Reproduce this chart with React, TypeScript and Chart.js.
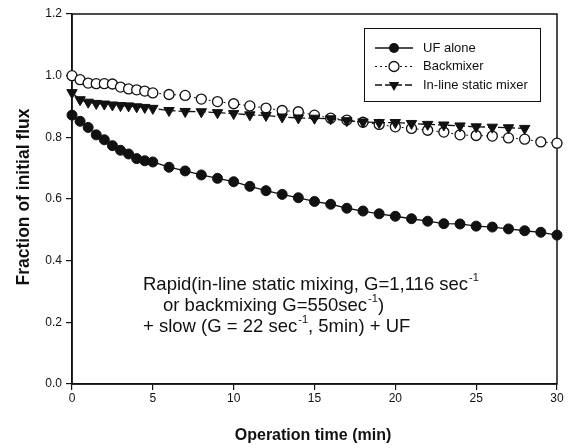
import React, { useEffect, useRef } from "react";
import { Chart, registerables } from "chart.js";

Chart.register(...registerables);

// ---- data ----
const timeMin = [0, 0.5, 1, 1.5, 2, 2.5, 3, 3.5, 4, 4.5, 5, 6, 7, 8, 9, 10, 11, 12, 13, 14, 15, 16, 17, 18, 19, 20, 21, 22, 23, 24, 25, 26, 27, 28, 29, 30];
const ufAlone = [0.872, 0.852, 0.832, 0.808, 0.792, 0.773, 0.758, 0.746, 0.731, 0.724, 0.72, 0.703, 0.691, 0.678, 0.667, 0.656, 0.641, 0.627, 0.615, 0.604, 0.592, 0.583, 0.57, 0.561, 0.552, 0.544, 0.536, 0.528, 0.52, 0.519, 0.512, 0.509, 0.503, 0.497, 0.492, 0.483];
const backmixer = [1.0, 0.987, 0.976, 0.974, 0.974, 0.973, 0.963, 0.957, 0.954, 0.95, 0.944, 0.939, 0.936, 0.924, 0.916, 0.909, 0.902, 0.895, 0.887, 0.883, 0.872, 0.862, 0.856, 0.849, 0.842, 0.834, 0.829, 0.823, 0.817, 0.808, 0.806, 0.804, 0.798, 0.794, 0.785, 0.781];
const timeInline = [0, 0.5, 1, 1.5, 2, 2.5, 3, 3.5, 4, 4.5, 5, 6, 7, 8, 9, 10, 11, 12, 13, 14, 15, 16, 17, 18, 19, 20, 21, 22, 23, 24, 25, 26, 27, 28];
const inlineMixer = [0.945, 0.922, 0.914, 0.91, 0.908, 0.905, 0.903, 0.902, 0.899, 0.897, 0.894, 0.887, 0.884, 0.883, 0.88, 0.877, 0.873, 0.871, 0.866, 0.863, 0.862, 0.86, 0.854, 0.85, 0.848, 0.848, 0.845, 0.842, 0.84, 0.837, 0.834, 0.833, 0.831, 0.829];

const seriesNames = ["UF alone", "Backmixer", "In-line static mixer"];
const xTitle = "Operation time (min)";
const yTitle = "Fraction of initial flux";
// annotation lines: [text, isSuperscript]
const noteLine1: [string, boolean][] = [["Rapid(in-line static mixing, G=1,116 sec", false], ["-1", true]];
const noteLine2: [string, boolean][] = [["or backmixing G=550sec", false], ["-1", true], [")", false]];
const noteLine3: [string, boolean][] = [["+ slow (G = 22 sec", false], ["-1", true], [", 5min) + UF", false]];

const FONT = '"Liberation Sans", Arial, Helvetica, sans-serif';
const INK = "#111";

function drawTri(ctx: CanvasRenderingContext2D, x: number, y: number, r: number) {
  ctx.beginPath();
  ctx.moveTo(x, y + r);
  ctx.lineTo(x - r * Math.sin(Math.PI / 3), y - r / 2);
  ctx.lineTo(x + r * Math.sin(Math.PI / 3), y - r / 2);
  ctx.closePath();
  ctx.fillStyle = INK;
  ctx.fill();
}

function drawRich(ctx: CanvasRenderingContext2D, parts: [string, boolean][], x: number, y: number, size: number) {
  let cx = x;
  for (const [t, sup] of parts) {
    if (sup) {
      ctx.font = `${Math.round(size * 0.6)}px ${FONT}`;
      ctx.fillText(t, cx + 1, y - size * 0.5);
      cx += 1;
    } else {
      ctx.font = `${size}px ${FONT}`;
      ctx.fillText(t, cx, y);
    }
    cx += ctx.measureText(t).width;
  }
}

const decorPlugin = {
  id: "decor",
  beforeDatasetsDraw(chart: any) {
    const { ctx, chartArea: a } = chart;
    ctx.save();
    ctx.strokeStyle = INK;
    ctx.lineWidth = 1.5;
    ctx.strokeRect(a.left, a.top, a.right - a.left, a.bottom - a.top);
    ctx.restore();
  },
  afterDraw(chart: any) {
    const { ctx } = chart;
    ctx.save();
    ctx.fillStyle = INK;
    ctx.strokeStyle = INK;

    // axis titles
    ctx.font = `bold 16px ${FONT}`;
    ctx.textAlign = "center";
    ctx.textBaseline = "middle";
    ctx.fillText(xTitle, 313, 436);
    ctx.save();
    ctx.translate(24, 197);
    ctx.rotate(-Math.PI / 2);
    ctx.font = `bold 17.5px ${FONT}`;
    ctx.fillText(yTitle, 0, 0);
    ctx.restore();

    // legend
    ctx.lineWidth = 1;
    ctx.strokeRect(364.5, 28.5, 176, 73);
    const rows = [48, 66.5, 85];
    const x0 = 375, x1 = 413, xm = 394;
    ctx.font = `13px ${FONT}`;
    ctx.textAlign = "left";
    ctx.textBaseline = "middle";
    // UF alone
    ctx.setLineDash([]);
    ctx.lineWidth = 1.3;
    ctx.beginPath(); ctx.moveTo(x0, rows[0]); ctx.lineTo(x1, rows[0]); ctx.stroke();
    ctx.beginPath(); ctx.arc(xm, rows[0], 5, 0, Math.PI * 2); ctx.fill();
    // Backmixer
    ctx.setLineDash([2, 3]);
    ctx.lineWidth = 1;
    ctx.beginPath(); ctx.moveTo(x0, rows[1]); ctx.lineTo(x1, rows[1]); ctx.stroke();
    ctx.setLineDash([]);
    ctx.fillStyle = "#fff";
    ctx.lineWidth = 1.3;
    ctx.beginPath(); ctx.arc(xm, rows[1], 5, 0, Math.PI * 2); ctx.fill(); ctx.stroke();
    ctx.fillStyle = INK;
    // In-line
    ctx.setLineDash([7, 3]);
    ctx.lineWidth = 1.3;
    ctx.beginPath(); ctx.moveTo(x0, rows[2]); ctx.lineTo(x1, rows[2]); ctx.stroke();
    ctx.setLineDash([]);
    drawTri(ctx, xm, rows[2], 6);
    ctx.fillStyle = INK;
    seriesNames.forEach((n, i) => ctx.fillText(n, 423, rows[i]));

    // annotation
    ctx.textBaseline = "alphabetic";
    drawRich(ctx, noteLine1, 143, 290, 18.5);
    drawRich(ctx, noteLine2, 163, 311, 18.5);
    drawRich(ctx, noteLine3, 143, 332, 18.5);
    ctx.restore();
  },
};

export default function App() {
  const ref = useRef<HTMLCanvasElement>(null);
  useEffect(() => {
    if (!ref.current) return;
    Chart.defaults.font.family = FONT;
    const chart = new Chart(ref.current, {
      type: "scatter",
      data: {
        datasets: [
          {
            label: seriesNames[0],
            data: timeMin.map((t, i) => ({ x: t, y: ufAlone[i] })),
            showLine: true,
            borderColor: INK,
            borderWidth: 1.3,
            pointStyle: "circle",
            pointRadius: 5,
            pointBackgroundColor: INK,
            pointBorderColor: INK,
            pointBorderWidth: 1,
            clip: false,
            order: 1,
          },
          {
            label: seriesNames[1],
            data: timeMin.map((t, i) => ({ x: t, y: backmixer[i] })),
            showLine: true,
            borderColor: INK,
            borderWidth: 1,
            borderDash: [2, 3],
            pointStyle: "circle",
            pointRadius: 5,
            pointBackgroundColor: "#fff",
            pointBorderColor: INK,
            pointBorderWidth: 1.3,
            clip: false,
            order: 2,
          },
          {
            label: seriesNames[2],
            data: timeInline.map((t, i) => ({ x: t, y: inlineMixer[i] })),
            showLine: true,
            borderColor: INK,
            borderWidth: 1.3,
            borderDash: [7, 3],
            pointStyle: "triangle",
            rotation: 180,
            pointRadius: 6,
            pointBackgroundColor: INK,
            pointBorderColor: INK,
            pointBorderWidth: 1,
            clip: false,
            order: 0,
          },
        ] as any,
      },
      options: {
        responsive: false,
        animation: false,
        devicePixelRatio: 1,
        layout: { padding: { left: 0, right: 16, top: 14, bottom: 0 } },
        plugins: { legend: { display: false }, tooltip: { enabled: false } },
        scales: {
          x: {
            type: "linear",
            min: 0,
            max: 30,
            ticks: { stepSize: 5, color: INK, font: { size: 12 }, padding: 1 },
            grid: { drawOnChartArea: false, drawTicks: true, tickLength: 6, color: INK, lineWidth: 1.2 },
            border: { display: true, color: INK, width: 1.5 },
            afterFit: (s: any) => { s.height = 64; },
          },
          y: {
            type: "linear",
            min: 0,
            max: 1.2,
            ticks: { stepSize: 0.2, color: INK, font: { size: 12 }, padding: 4, callback: (v: any) => Number(v).toFixed(1) },
            grid: { drawOnChartArea: false, drawTicks: true, tickLength: 6, color: INK, lineWidth: 1.2 },
            border: { display: true, color: INK, width: 1.5 },
            afterFit: (s: any) => { s.width = 72; },
          },
        },
      } as any,
      plugins: [decorPlugin],
    });
    return () => chart.destroy();
  }, []);
  return (
    <div style={{ position: "absolute", left: 0, top: 0, width: 573, height: 448, background: "#fff" }}>
      <canvas ref={ref} width={573} height={448} style={{ display: "block" }} />
    </div>
  );
}
